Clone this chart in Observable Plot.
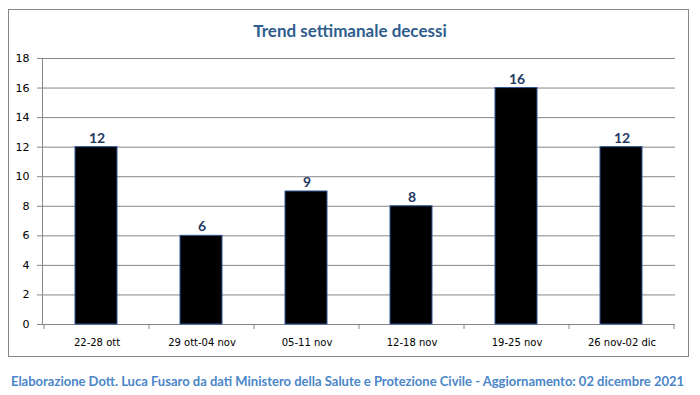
<!DOCTYPE html>
<html><head><meta charset="utf-8">
<script src="https://cdn.jsdelivr.net/npm/d3@7"></script>
<script src="https://cdn.jsdelivr.net/npm/@observablehq/plot@0.6"></script>
<style>
html,body{margin:0;padding:0;background:#fff;}
#wrap{position:relative;width:700px;height:395px;overflow:hidden;background:#fff;}
#frame{position:absolute;left:8px;top:9px;width:681px;height:348px;border:1px solid #868686;box-sizing:border-box;}
#title{position:absolute;left:0;top:20px;width:700px;text-align:center;font:bold 17px Lato,"Open Sans",sans-serif;color:#2E5D8E;}
#chart{position:absolute;left:0;top:0;}
#caption{position:absolute;left:0;top:373px;width:695px;text-align:center;font:bold 13px Lato,"Open Sans",sans-serif;color:#4A86C8;white-space:nowrap;}
</style></head>
<body><div id="wrap"><div id="frame"></div><div id="title"></div><div id="chart"></div><div id="caption"></div></div>
<script>
const titleText = "Trend settimanale decessi";
const captionText = "Elaborazione Dott. Luca Fusaro da dati Ministero della Salute e Protezione Civile - Aggiornamento: 02 dicembre 2021";
const weeks = ["22-28 ott","29 ott-04 nov","05-11 nov","12-18 nov","19-25 nov","26 nov-02 dic"];
const deaths = [12, 6, 9, 8, 16, 12];
const yTicks = [0,2,4,6,8,10,12,14,16,18];

document.getElementById("title").textContent = titleText;
document.getElementById("caption").textContent = captionText;

const data = weeks.map((w,i)=>({week:w, value:deaths[i]}));
const gridColor = "#868686";

// band-edge tick marks drawn through the x band scale
function bandEdgeTicks(index, scales, values, dims) {
  const x = scales.x, y = scales.y;
  const bw = x.bandwidth ? x.bandwidth() : 0;
  const y0 = y(0);
  const g = d3.create("svg:g").attr("stroke", gridColor).attr("stroke-width", 1);
  weeks.forEach((w,i)=>{
    const left = x(w);
    g.append("line").attr("x1", left).attr("x2", left).attr("y1", y0).attr("y2", y0+5);
    if (i === weeks.length-1) g.append("line").attr("x1", left+bw).attr("x2", left+bw).attr("y1", y0).attr("y2", y0+5);
  });
  return g.node();
}

const plot = Plot.plot({
  width: 700,
  height: 360,
  marginLeft: 42,
  marginRight: 25,
  marginTop: 58,
  marginBottom: 36,
  style: {fontFamily: "'DejaVu Sans', sans-serif", fontSize: "10px", color: "#000", background: "transparent", overflow: "visible"},
  x: {domain: weeks, padding: 0, label: null},
  y: {domain: [0,18], label: null},
  marks: [
    Plot.ruleY(yTicks, {stroke: gridColor, strokeWidth: 1, strokeOpacity: 1}),
    Plot.barY(data, {x: "week", y: "value", fill: "#000", stroke: "#2F5597", strokeWidth: 1, insetLeft: 31, insetRight: 32}),
    Plot.text(data, {x: "week", y: "value", text: d => String(d.value), dy: -9, fill: "#1F3864", fontWeight: "bold", fontSize: 14, fontFamily: "Lato, sans-serif"}),
    Plot.axisY({ticks: yTicks, tickSize: 5, tickPadding: 8, stroke: gridColor, fill: "#000", tickFormat: d => String(d), label: null, fontSize: 11}),
    Plot.frame({anchor: "left", stroke: gridColor}),
    Plot.axisX({tickSize: 0, tickPadding: 14, fill: "#000", label: null, fontSize: 10}),
    bandEdgeTicks
  ]
});
document.getElementById("chart").appendChild(plot);
</script></body></html>
